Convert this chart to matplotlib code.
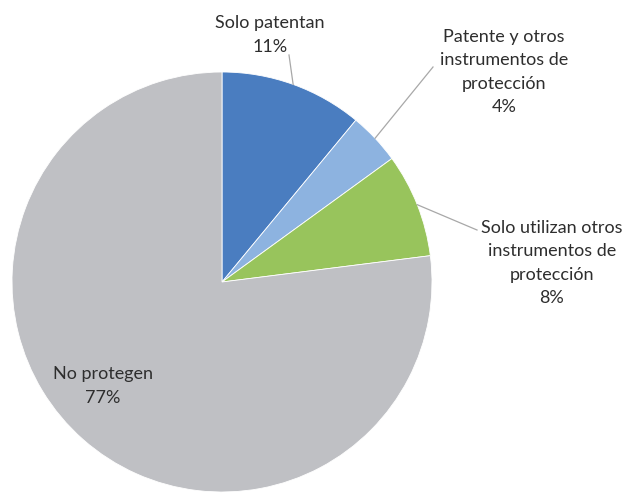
import matplotlib.pyplot as plt
import numpy as np

plt.rcParams['font.family'] = ['Lato', 'DejaVu Sans']

# Share of firms by protection strategy (%)
categorias = ['Solo patentan',
              'Patente y otros\ninstrumentos de\nprotección',
              'Solo utilizan otros\ninstrumentos de\nprotección',
              'No protegen']
porcentajes = [11, 4, 8, 77]
colores = ['#4A7DC0', '#8DB3E0', '#98C45C', '#BFC0C4']

fig = plt.figure(figsize=(6.31, 4.94), dpi=100)
ax = fig.add_axes([0, 0, 1, 1])

cx, cy, r = 222, 212, 210
wedges, _ = ax.pie(porcentajes, colors=colores, startangle=90, counterclock=False,
                   center=(cx, cy), radius=r,
                   wedgeprops=dict(edgecolor='white', linewidth=0.6))
ax.set_xlim(0, 631)
ax.set_ylim(0, 494)
ax.axis('off')

# label position (text centre) and leader-line end for each slice; None = inside slice
label_pos = [(270, 459), (504, 422), (552, 231), (103, 108)]
elbows = [(289, 439), (433, 427), (477, 264), None]

texto = '#2E2E2E'
for w, cat, pct, pos, elb in zip(wedges, categorias, porcentajes, label_pos, elbows):
    ax.text(pos[0], pos[1], f'{cat}\n{pct}%', ha='center', va='center',
            fontsize=13, color=texto, linespacing=1.55)
    if elb is not None:
        ang = np.deg2rad((w.theta1 + w.theta2) / 2)
        x0, y0 = cx + r * np.cos(ang), cy + r * np.sin(ang)
        ax.plot([x0, elb[0]], [y0, elb[1]], color='#A8A8A8', lw=0.9)

fig.savefig('out.png', dpi=100)
